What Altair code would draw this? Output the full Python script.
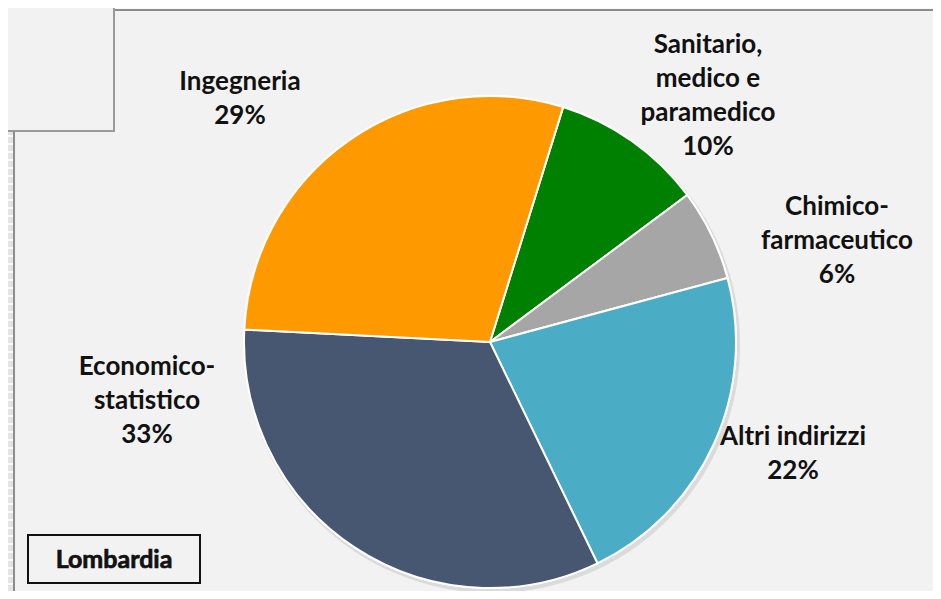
import math
import altair as alt
import pandas as pd

# ---- data (clockwise from the top-right) ----
categories = ["Sanitario, medico e paramedico", "Chimico-farmaceutico",
              "Altri indirizzi", "Economico-statistico", "Ingegneria"]
values = [10, 6, 22, 33, 29]
label_lines = [["Sanitario,", "medico e", "paramedico"],
               ["Chimico-", "farmaceutico"],
               ["Altri indirizzi"],
               ["Economico-", "statistico"],
               ["Ingegneria"]]
colors = ["#008000", "#a6a6a6", "#4bacc6", "#475771", "#ff9900"]
region = "Lombardia"

# ---- layout ----
W, H = 925, 583
CX, CY, R = 482, 334, 246
START = math.radians(17.3)
# position of the first line of each label (chart pixels)
label_pos = [(700, 37), (829, 199), (785, 429), (139, 359), (232, 74)]
FONT = "Lato"

pie_df = pd.DataFrame({"cat": categories, "value": values, "idx": range(len(values))})
lab_df = pd.DataFrame({
    "text": [l + [f"{v}%"] for l, v in zip(label_lines, values)],
    "px": [p[0] for p in label_pos],
    "py": [p[1] for p in label_pos],
})

one = pd.DataFrame({"a": [0]})

bg_top = alt.Chart(one).mark_rect(color="#fbfbfb").encode(
    x=alt.value(0), x2=alt.value(W), y=alt.value(0), y2=alt.value(2))
top_line = alt.Chart(one).mark_rule(color="#8c8c8c", strokeWidth=2).encode(
    x=alt.value(106), x2=alt.value(W), y=alt.value(2))
tl_box = alt.Chart(one).mark_rect(fill="#f2f2f2", stroke="#9a9a9a", strokeWidth=2).encode(
    x=alt.value(-6), x2=alt.value(106), y=alt.value(-6), y2=alt.value(123))
strip = alt.Chart(one).mark_rect(color="#e4e4e4").encode(
    x=alt.value(0), x2=alt.value(6), y=alt.value(124), y2=alt.value(H))
stripe_df = pd.DataFrame({"sy": list(range(128, H, 8))})
stripes = alt.Chart(stripe_df).mark_rule(color="#fafafa", strokeWidth=2).encode(
    x=alt.value(0), x2=alt.value(6), y=alt.Y("sy:Q", scale=None))
left_line = alt.Chart(one).mark_rule(color="#8c8c8c", strokeWidth=2).encode(
    x=alt.value(6), y=alt.value(123), y2=alt.value(H))

shadow = alt.Chart(one).mark_arc(
    theta=0, theta2=2 * math.pi, outerRadius=R + 2, color="#c4c4c4", opacity=0.5
).encode(x=alt.value(CX + 2), y=alt.value(CY + 3))
shadow2 = alt.Chart(one).mark_arc(
    theta=0, theta2=2 * math.pi, outerRadius=R + 1, color="#ffffff"
).encode(x=alt.value(CX), y=alt.value(CY))

pie = alt.Chart(pie_df).mark_arc(outerRadius=R, stroke="white", strokeWidth=2).encode(
    theta=alt.Theta("value:Q", stack=True,
                    scale=alt.Scale(range=[START, START + 2 * math.pi])),
    color=alt.Color("cat:N", scale=alt.Scale(domain=categories, range=colors), legend=None),
    order=alt.Order("idx:Q"),
    x=alt.value(CX), y=alt.value(CY),
)

labels = alt.Chart(lab_df).mark_text(
    font=FONT, fontSize=26, fontWeight="bold", color="#111111",
    align="center", baseline="middle", lineHeight=34,
).encode(
    x=alt.X("px:Q", scale=None), y=alt.Y("py:Q", scale=None), text="text"
)

reg_box = alt.Chart(one).mark_rect(fill="#f2f2f2", stroke="#111111", strokeWidth=2).encode(
    x=alt.value(20), x2=alt.value(192), y=alt.value(527), y2=alt.value(575))
reg_text = alt.Chart(pd.DataFrame({"t": [region]})).mark_text(
    font=FONT, fontSize=25, fontWeight="bold", color="#111111", align="center",
    baseline="middle", stroke="#111111", strokeWidth=0.7
).encode(x=alt.value(106), y=alt.value(552), text="t:N")

chart = alt.layer(
    bg_top, top_line, tl_box, strip, stripes, left_line,
    shadow, shadow2, pie, labels, reg_box, reg_text
).properties(
    width=W, height=H, background="#f2f2f2", padding=0,
    autosize=alt.AutoSizeParams(type="none"),
).configure_view(stroke=None)

chart.save("out.html", embed_options={"renderer": "svg", "actions": False})
